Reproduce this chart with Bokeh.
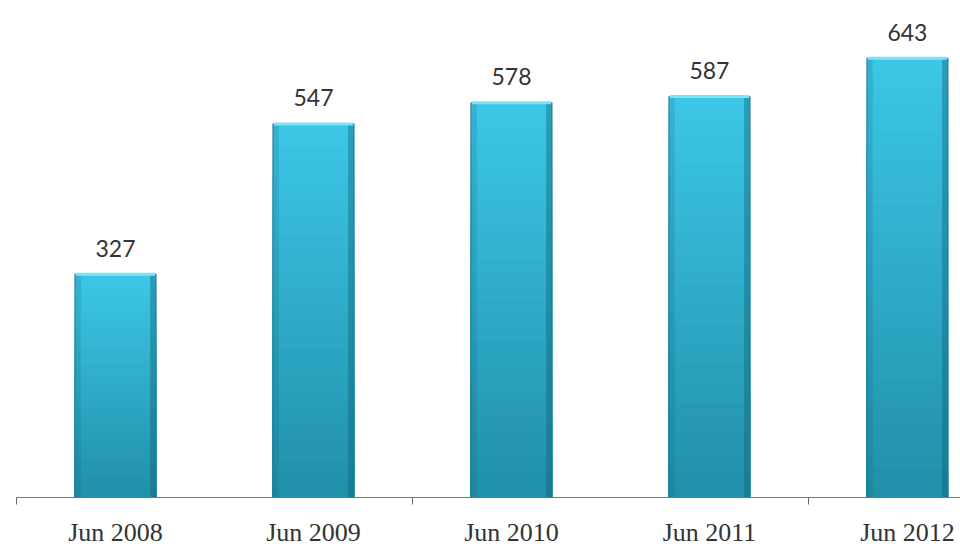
from bokeh.plotting import figure
from bokeh.models import Range1d, FixedTicker, ColumnDataSource
from bokeh.core.properties import value
from bokeh.embed import file_html
from bokeh.resources import INLINE

# ---- data ----
categories = ["Jun 2008", "Jun 2009", "Jun 2010", "Jun 2011", "Jun 2012"]
values = [327, 547, 578, 587, 643]

xs = list(range(len(categories)))
BAR_W = 0.41

p = figure(width=960, height=549, output_backend="svg", toolbar_location=None,
           x_range=Range1d(-0.5, 4.268), y_range=Range1d(0, 727.7),
           min_border_left=16, min_border_right=0, min_border_top=0, min_border_bottom=52)
p.outline_line_color = None
p.background_fill_color = "white"
p.border_fill_color = "white"
p.xgrid.visible = False
p.ygrid.visible = False
p.yaxis.visible = False

# gradient bars: overlapping bars, tallest (lightest) first
def lerp(c1, c2, t):
    a = [int(c1[i:i + 2], 16) for i in (1, 3, 5)]
    b = [int(c2[i:i + 2], 16) for i in (1, 3, 5)]
    return "#%02x%02x%02x" % tuple(round(a[k] + (b[k] - a[k]) * t) for k in range(3))

N = 30
bx, bt, bc = [], [], []
for x, v in zip(xs, values):
    for i in range(N - 1, -1, -1):
        t = i / (N - 1)
        bx.append(x)
        bt.append(v * (i + 1) / N)
        bc.append(lerp("#2190aa", "#3cc6e6", t))
p.vbar(x=bx, bottom=0, top=bt, width=BAR_W, fill_color=bc, line_color=None)

# side shading
side = 0.03
p.vbar(x=[x - BAR_W / 2 + side / 2 for x in xs], top=values, width=side,
       fill_color="#0e5f72", fill_alpha=0.18, line_color=None)
p.vbar(x=[x + BAR_W / 2 - side / 2 for x in xs], top=values, width=side,
       fill_color="#0e5f72", fill_alpha=0.40, line_color=None)
# outline
p.vbar(x=xs, top=values, width=BAR_W, fill_color=None, line_color="#1a7489",
       line_alpha=0.7, line_width=1.2)
# light top cap
p.segment(x0=[x - BAR_W / 2 + 0.005 for x in xs], x1=[x + BAR_W / 2 - 0.005 for x in xs],
          y0=values, y1=values, line_color="#7fe3f5", line_width=3)

# value labels
src = ColumnDataSource(dict(x=xs, y=values, t=[str(v) for v in values]))
p.text(x="x", y="y", text="t", source=src, text_align="center",
       text_baseline="alphabetic", y_offset=-26, text_font=value("Lato"),
       text_font_size="23px", text_color="#333333")

# x axis
ax = p.xaxis[0]
ax.ticker = FixedTicker(ticks=xs, minor_ticks=[-0.5, 1.5, 3.5])
ax.major_label_overrides = {i: c for i, c in enumerate(categories)}
ax.major_tick_line_color = None
ax.major_tick_out = 0
ax.major_tick_in = 0
ax.minor_tick_line_color = "#666666"
ax.minor_tick_out = 7
ax.minor_tick_in = 0
ax.axis_line_color = "#777777"
ax.axis_line_width = 1
ax.major_label_standoff = 13
ax.major_label_text_font = "Liberation Serif"
ax.major_label_text_font_size = "26px"
ax.major_label_text_color = "#333333"

open("out.html", "w").write(file_html(p, INLINE))
